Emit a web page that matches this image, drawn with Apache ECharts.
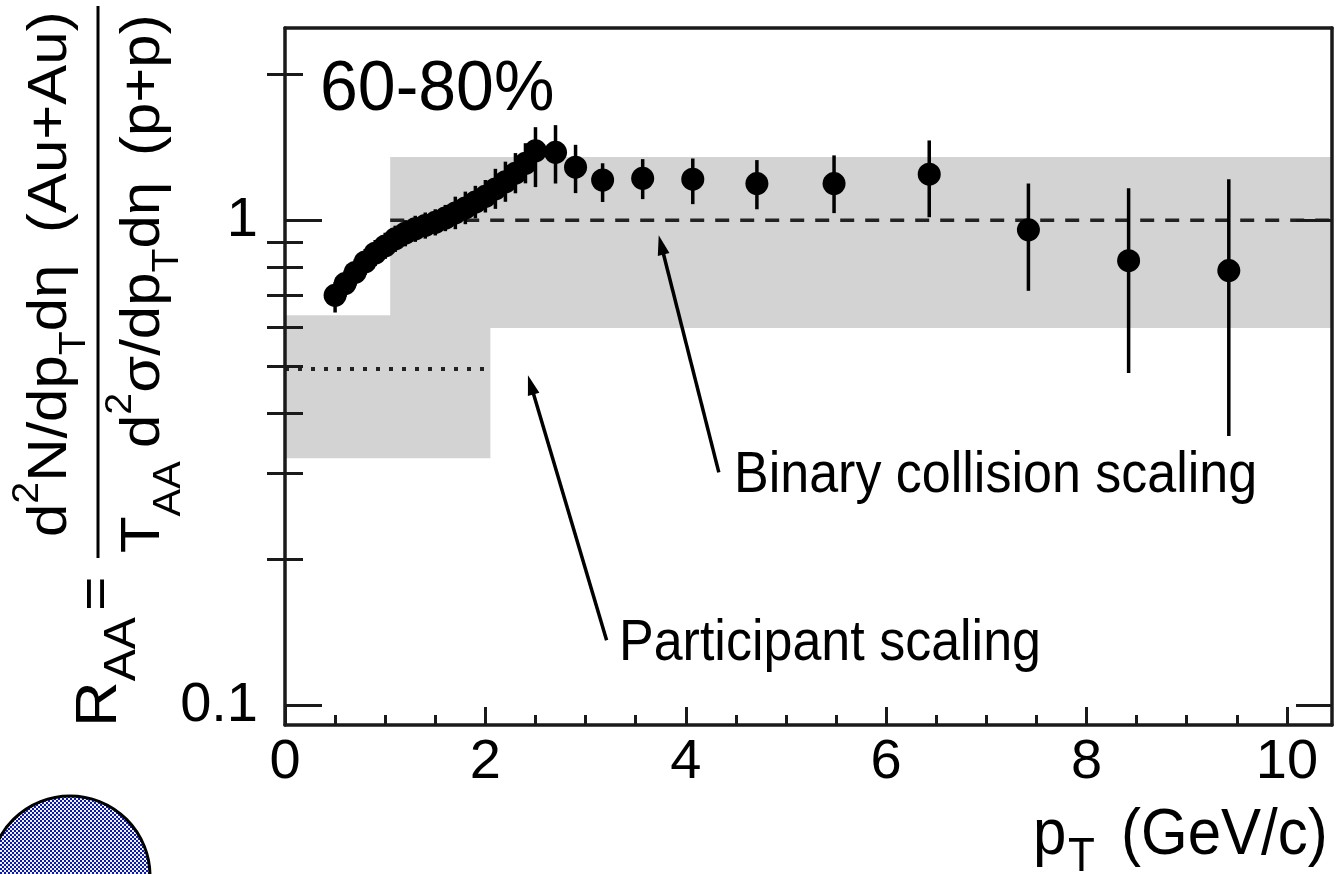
<!DOCTYPE html>
<html><head><meta charset="utf-8">
<script src="https://cdn.jsdelivr.net/npm/echarts@6/dist/echarts.min.js"></script>
<style>html,body{margin:0;padding:0;background:#fff}#c{width:1343px;height:874px}</style>
</head><body><div id="c"></div>
<script>
const FONT = '"Liberation Sans", Arial, Helvetica, sans-serif';
const X_MIN = 0, X_MAX = 10.45, Y_MIN = 0.091, Y_MAX = 2.49;
const xTicks = [0, 2, 4, 6, 8, 10];
const yMajorTicks = [0.1, 1];
const yMinorTicks = [0.2, 0.3, 0.4, 0.5, 0.6, 0.7, 0.8, 0.9, 2];

const pT  = [0.5,0.6,0.7,0.8,0.9,1.0,1.1,1.2,1.3,1.4,1.5,1.6,1.7,1.8,1.9,2.0,2.1,2.2,2.3,2.4,2.5,2.7,2.9,3.17,3.57,4.07,4.71,5.48,6.43,7.42,8.42,9.42];
const raa = [0.70,0.74,0.78,0.82,0.855,0.885,0.915,0.94,0.96,0.975,0.99,1.01,1.035,1.06,1.09,1.12,1.16,1.20,1.25,1.31,1.39,1.38,1.286,1.21,1.22,1.215,1.19,1.19,1.244,0.955,0.825,0.787];
const errLo = [0.645,0.695,0.733,0.771,0.804,0.832,0.860,0.883,0.902,0.916,0.930,0.949,0.958,0.981,1.009,1.037,1.055,1.091,1.136,1.191,1.17,1.19,1.137,1.09,1.105,1.079,1.053,1.034,1.014,0.715,0.484,0.359];
const errHi = [0.745,0.787,0.830,0.872,0.910,0.942,0.974,1.000,1.021,1.037,1.053,1.075,1.118,1.145,1.177,1.210,1.276,1.320,1.375,1.441,1.555,1.57,1.43,1.31,1.336,1.34,1.33,1.36,1.46,1.19,1.164,1.215];

const bandX0 = [0, 1.05];
const bandX1 = [2.05, 10.45];
const bandLo = [0.323, 0.599];
const bandHi = [0.637, 1.349];

const refX0 = [1.05, 0];
const refX1 = [10.45, 2.05];
const refY  = [1, 0.493];

const arrowTail = [[4.33, 0.302], [3.21, 0.136]];
const arrowTip  = [[3.73, 0.931], [2.425, 0.479]];

const chart = echarts.init(document.getElementById('c'), null, {renderer: 'canvas'});

const mctx = document.createElement('canvas').getContext('2d');
function tw(t, s) { mctx.font = s + 'px ' + FONT; return mctx.measureText(t).width; }
const STRETCH = 1.09;
function vpiece(t, s, bx, y) {
  return {type: 'text', rotation: Math.PI / 2, x: bx - 0.3465 * s, y: y, scaleX: STRETCH, z: 100,
    style: {text: t, font: s + 'px ' + FONT, fill: '#000', align: 'left', textAlign: 'left', verticalAlign: 'middle', textVerticalAlign: 'middle'}};
}
function vrun(pieces, y) {
  const out = [];
  for (const [t, s, bx] of pieces) { out.push(vpiece(t, s, bx, y)); y -= tw(t, s) * STRETCH; }
  return out;
}
function hpiece(t, s, x, baseY, sy) {
  return {type: 'text', x: x, y: baseY - 0.3465 * s * sy, scaleY: sy, z: 100,
    style: {text: t, font: s + 'px ' + FONT, fill: '#000', align: 'left', textAlign: 'left', verticalAlign: 'middle', textVerticalAlign: 'middle'}};
}

const pc = document.createElement('canvas'); pc.width = 4; pc.height = 4;
const pg = pc.getContext('2d');
pg.fillStyle = '#eef0ff'; pg.fillRect(0, 0, 4, 4);
pg.fillStyle = '#0c1aa2'; pg.fillRect(0, 0, 2, 2); pg.fillRect(2, 2, 2, 2);

const graphics = [].concat(
  vrun([['d', 55, 70], ['2', 36, 41], ['N/dp', 55, 70], ['T', 36, 88], ['d\u03b7', 55, 70]], 537),
  vrun([['(Au+Au)', 55, 70]], 233),
  vrun([['T', 55, 163], ['AA', 38, 183]], 553),
  vrun([['d', 55, 163], ['2', 36, 134], ['\u03c3/dp', 55, 163], ['T', 36, 181], ['d\u03b7', 55, 163]], 448),
  vrun([['(p+p)', 55, 163]], 156),
  vrun([['R', 58, 120], ['AA', 44, 138]], 727),
  vrun([['=', 54, 117]], 611),
  [
    {type: 'line', shape: {x1: 98, y1: 6, x2: 98, y2: 558}, style: {stroke: '#000', lineWidth: 3}, z: 100},
    hpiece('60-80%', 68, 320, 115, 1.04),
    hpiece('Binary collision scaling', 52, 734, 496, 1.09),
    hpiece('Participant scaling', 52, 619, 664, 1.09),
    hpiece('p', 60, 1033, 859, 1.09),
    hpiece('T', 44, 1068, 874, 1.09),
    hpiece('(GeV/c)', 60, 1121, 859, 1.09),
    {type: 'circle', shape: {cx: 70, cy: 876, r: 80}, style: {fill: {image: pc, repeat: 'repeat'}, stroke: '#000', lineWidth: 3}, z: 100}
  ]
);

const axisCommon = {z: 10, splitLine: {show: false}};
const lineStyle = {color: '#1a1a1a', width: 3.5};
const tickStyle = {color: '#1a1a1a', width: 3};

const option = {
  animation: false,
  backgroundColor: '#fff',
  grid: {left: 285, top: 28, right: 11, bottom: 149, show: false},
  xAxis: [
    Object.assign({}, axisCommon, {
      type: 'value', position: 'bottom', min: X_MIN, max: X_MAX, interval: 2,
      axisLine: {show: true, onZero: false, lineStyle: lineStyle},
      axisTick: {show: true, inside: true, length: 18, customValues: xTicks, lineStyle: tickStyle},
      minorTick: {show: true, splitNumber: 4, length: 10, lineStyle: tickStyle},
      axisLabel: {show: true, customValues: xTicks, margin: 10, fontSize: 56, fontFamily: FONT, color: '#000'}
    }),
    Object.assign({}, axisCommon, {
      type: 'value', position: 'top', min: X_MIN, max: X_MAX,
      axisLine: {show: true, onZero: false, lineStyle: lineStyle},
      axisTick: {show: false}, axisLabel: {show: false}
    })
  ],
  yAxis: [
    Object.assign({}, axisCommon, {
      type: 'log', logBase: 10, position: 'left', min: Y_MIN, max: Y_MAX,
      axisLine: {show: true, onZero: false, lineStyle: lineStyle},
      axisTick: {show: true, inside: true, length: 37, customValues: yMajorTicks, lineStyle: tickStyle},
      axisLabel: {show: true, customValues: yMajorTicks, margin: 27, fontSize: 56, fontFamily: FONT, color: '#000',
        formatter: function (v) { return Math.abs(v - 1) < 1e-6 ? '1' : '0.1'; }}
    }),
    Object.assign({}, axisCommon, {
      type: 'log', logBase: 10, position: 'left', min: Y_MIN, max: Y_MAX,
      axisLine: {show: false},
      axisTick: {show: true, inside: true, length: 18, customValues: yMinorTicks, lineStyle: tickStyle},
      axisLabel: {show: false}
    }),
    Object.assign({}, axisCommon, {
      type: 'log', logBase: 10, position: 'right', min: Y_MIN, max: Y_MAX,
      axisLine: {show: true, onZero: false, lineStyle: lineStyle},
      axisTick: {show: true, inside: true, length: 36, customValues: yMajorTicks, lineStyle: tickStyle},
      axisLabel: {show: false}
    }),
    Object.assign({}, axisCommon, {
      type: 'log', logBase: 10, position: 'right', min: Y_MIN, max: Y_MAX,
      axisLine: {show: false},
      axisTick: {show: true, inside: true, length: 18, customValues: yMinorTicks, lineStyle: tickStyle},
      axisLabel: {show: false}
    })
  ],
  series: [
    {
      type: 'custom', name: 'bands', xAxisIndex: 0, yAxisIndex: 0, z: 1, clip: true,
      data: bandX0.map((x0, i) => [x0, bandX1[i], bandLo[i], bandHi[i]]),
      encode: {x: [0, 1], y: [2, 3]},
      renderItem: function (params, api) {
        const a = api.coord([api.value(0), api.value(3)]);
        const b = api.coord([api.value(1), api.value(2)]);
        return {type: 'rect', shape: {x: a[0], y: a[1], width: b[0] - a[0], height: b[1] - a[1]}, style: {fill: '#d3d3d3'}};
      }
    },
    {
      type: 'custom', name: 'scaling lines', xAxisIndex: 0, yAxisIndex: 0, z: 2, clip: true,
      data: refX0.map((x0, i) => [x0, refX1[i], refY[i]]),
      encode: {x: [0, 1], y: 2},
      renderItem: function (params, api) {
        const a = api.coord([api.value(0), api.value(2)]);
        const b = api.coord([api.value(1), api.value(2)]);
        const dotted = params.dataIndex === 1;
        return {type: 'line', shape: {x1: a[0], y1: a[1], x2: b[0], y2: b[1]},
          style: {stroke: '#222', lineWidth: dotted ? 4 : 3.5, lineDash: dotted ? [4, 9] : [14, 11]}};
      }
    },
    {
      type: 'custom', name: 'arrows', xAxisIndex: 0, yAxisIndex: 0, z: 6, clip: false,
      data: arrowTail.map((t, i) => [t[0], t[1], arrowTip[i][0], arrowTip[i][1]]),
      encode: {x: [0, 2], y: [1, 3]},
      renderItem: function (params, api) {
        const p0 = api.coord([api.value(0), api.value(1)]);
        const p1 = api.coord([api.value(2), api.value(3)]);
        const dx = p1[0] - p0[0], dy = p1[1] - p0[1];
        const L = Math.sqrt(dx * dx + dy * dy);
        const ux = dx / L, uy = dy / L, nx = -uy, ny = ux;
        const hl = 20, hw = 6;
        const bx = p1[0] - ux * hl, by = p1[1] - uy * hl;
        return {type: 'group', children: [
          {type: 'line', shape: {x1: p0[0], y1: p0[1], x2: bx + ux * 4, y2: by + uy * 4}, style: {stroke: '#000', lineWidth: 3.5}},
          {type: 'polygon', shape: {points: [[p1[0], p1[1]], [bx + nx * hw, by + ny * hw], [bx - nx * hw, by - ny * hw]]}, style: {fill: '#000'}}
        ]};
      }
    },
    {
      type: 'custom', name: 'errors', xAxisIndex: 0, yAxisIndex: 0, z: 4, clip: true,
      data: pT.map((x, i) => [x, errLo[i], errHi[i]]),
      encode: {x: 0, y: [1, 2]},
      renderItem: function (params, api) {
        const a = api.coord([api.value(0), api.value(1)]);
        const b = api.coord([api.value(0), api.value(2)]);
        return {type: 'line', shape: {x1: a[0], y1: a[1], x2: b[0], y2: b[1]}, style: {stroke: '#000', lineWidth: 3.5}};
      }
    },
    {
      type: 'scatter', name: 'RAA', xAxisIndex: 0, yAxisIndex: 0, z: 5,
      symbol: 'circle', symbolSize: 23,
      itemStyle: {color: '#000', opacity: 1},
      data: pT.map((x, i) => [x, raa[i]])
    }
  ],
  graphic: {elements: graphics}
};
chart.setOption(option);
</script></body></html>
